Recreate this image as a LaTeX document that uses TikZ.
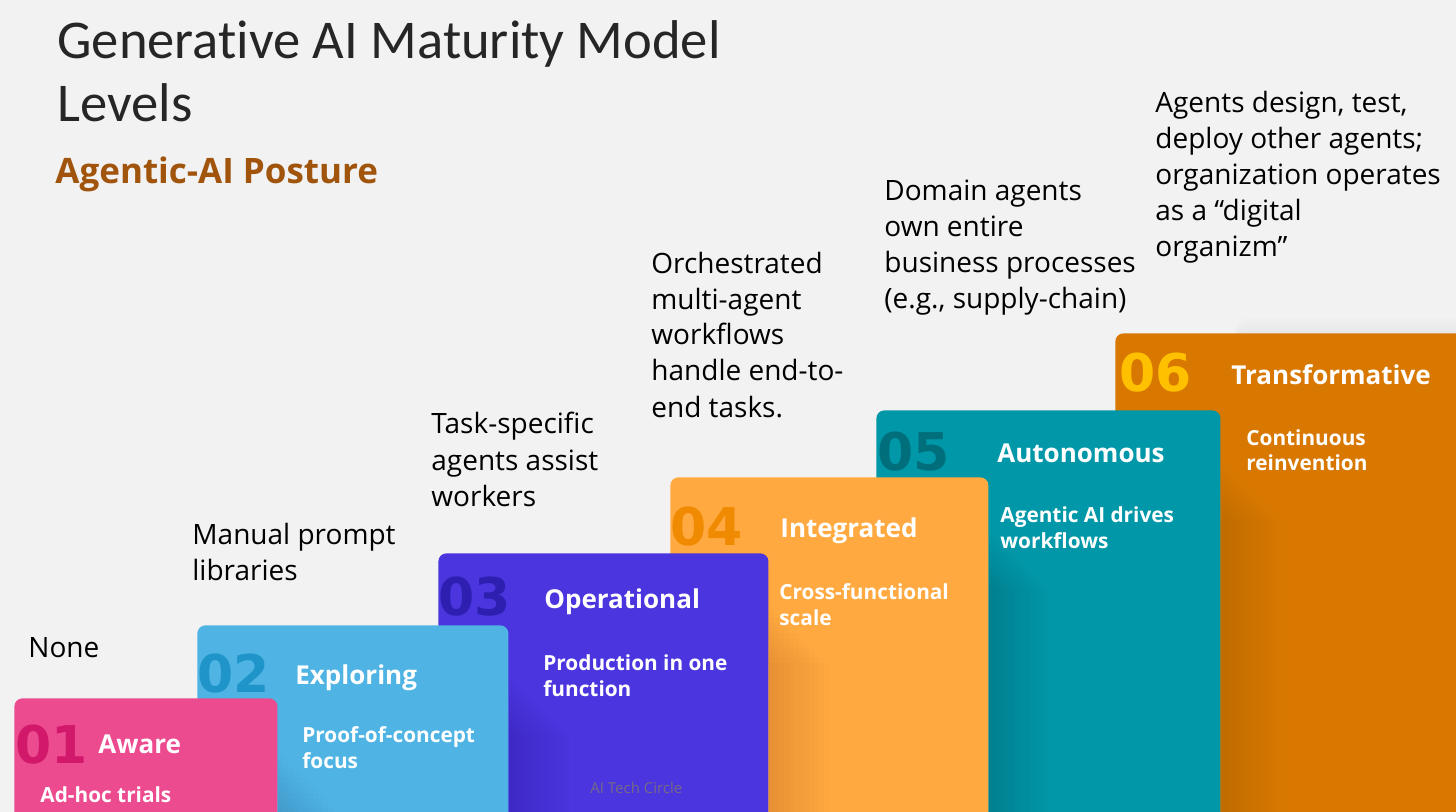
\documentclass[tikz,border=0pt]{standalone}
\usepackage{fontspec}
\setmainfont{Open Sans}
\newfontfamily\titlefont[Ligatures=NoCommon]{Carlito}
\newfontfamily\numfont{DejaVu Sans}
\usepackage{xcolor}
\definecolor{lvlbg}{HTML}{F2F2F2}
\definecolor{lvlpink}{HTML}{EC4B8F}
\definecolor{lvlpinknum}{HTML}{D2186A}
\definecolor{lvlsky}{HTML}{4FB4E4}
\definecolor{lvlskynum}{HTML}{1E94C8}
\definecolor{lvlviolet}{HTML}{4A35DE}
\definecolor{lvlvioletnum}{HTML}{2D20B0}
\definecolor{lvlamber}{HTML}{FFA940}
\definecolor{lvlambernum}{HTML}{F08A00}
\definecolor{lvlteal}{HTML}{0098A8}
\definecolor{lvltealnum}{HTML}{006E7B}
\definecolor{lvlochre}{HTML}{D87800}
\definecolor{lvlochrenum}{HTML}{FFC000}
\definecolor{lvlbrown}{HTML}{A0540C}
\definecolor{lvlcredit}{HTML}{766A84}
\usetikzlibrary{positioning,calc}
\tikzset{
  lvlbox/.style={rounded corners=4pt,inner sep=0pt,anchor=north west},
  lvlnum/.style={anchor=base west,inner sep=0pt,font=\numfont\bfseries\fontsize{26}{26}\selectfont},
  lvlname/.style={anchor=base west,inner sep=0pt,text=white,font=\bfseries\fontsize{13}{16}\selectfont},
  lvldesc/.style={anchor=base west,inner sep=0pt,text=white,align=left,font=\bfseries\fontsize{10.4}{13}\selectfont},
  stepnote/.style={anchor=base west,inner sep=0pt,align=left,text=black,font=\fontsize{14}{18}\selectfont},
  lvlshade/.style={black,opacity=0.009},
}
% soft shadow cast to the right of a box
\newcommand{\lvlshadow}[1]{%
  \foreach \w in {5,10,...,60}
    \fill[lvlshade] ([shift={(0,50+\w)}]#1.north east) rectangle ([shift={(\w,0)}]#1.south east);%
}

\begin{document}
\begin{tikzpicture}[x=0.5pt,y=-0.5pt]
  \fill[lvlbg] (0,0) rectangle (1456,812);
  \clip (0,0) rectangle (1456,812);
  \useasboundingbox (0,0) rectangle (1456,812);

  % headings
  \node[anchor=base west,inner sep=0pt,align=left,text=black!85,font=\titlefont\fontsize{27.3}{31.5}\selectfont] (title) at (57,122) {Generative AI Maturity Model\\Levels};
  \node[anchor=base west,inner sep=0pt,text=lvlbrown,font=\bfseries\fontsize{17.5}{20}\selectfont] (posture) at (55,184) {Agentic-AI Posture};

  % level boxes, back to front
  \foreach \d in {3,6,...,15}
    \fill[lvlshade,rounded corners=6pt] (1235,333-\d) rectangle (1480,380);
  \node[lvlbox,fill=lvlochre,minimum width=182.5pt,minimum height=248.5pt] (b6) at (1115,333) {};
  \node[lvlbox,fill=lvlteal,minimum width=172pt,minimum height=210pt] (b5) at (876,410) {};
  \lvlshadow{b5}
  \node[lvlbox,fill=lvlamber,minimum width=159pt,minimum height=176.5pt] (b4) at (670,477) {};
  \lvlshadow{b4}
  \node[lvlbox,fill=lvlviolet,minimum width=165pt,minimum height=138.5pt] (b3) at (438,553) {};
  \lvlshadow{b3}
  \node[lvlbox,fill=lvlsky,minimum width=155.5pt,minimum height=102.5pt] (b2) at (197,625) {};
  \lvlshadow{b2}
  \node[lvlbox,fill=lvlpink,minimum width=131.5pt,minimum height=66pt] (b1) at (14,698) {};
  \lvlshadow{b1}

  % numbers, names and descriptions
  \node[lvlnum,text=lvlpinknum] (n1) at (15,763) {01};
  \node[lvlname] (t1) at (98,753) {Aware};
  \node[lvldesc] (d1) at (40,802) {Ad-hoc trials};

  \node[lvlnum,text=lvlskynum] (n2) at (197,692) {02};
  \node[lvlname] (t2) at (295,684) {Exploring};
  \node[lvldesc] (d2) at (302,768) {Proof-of-concept\\focus};

  \node[lvlnum,text=lvlvioletnum] (n3) at (438,615) {03};
  \node[lvlname] (t3) at (544,608) {Operational};
  \node[lvldesc] (d3) at (543,696) {Production in one\\function};

  \node[lvlnum,text=lvlambernum] (n4) at (670,545) {04};
  \node[lvlname] (t4) at (780,537) {Integrated};
  \node[lvldesc] (d4) at (779,625) {Cross-functional\\scale};

  \node[lvlnum,text=lvltealnum] (n5) at (877,470) {05};
  \node[lvlname] (t5) at (997,463) {Autonomous};
  \node[lvldesc] (d5) at (1000,548) {Agentic AI drives\\workflows};

  \node[lvlnum,text=lvlochrenum] (n6) at (1119,392) {06};
  \node[lvlname] (t6) at (1231,385) {Transformative};
  \node[lvldesc] (d6) at (1246,471) {Continuous\\reinvention};

  \node[anchor=base west,inner sep=0pt,text=lvlcredit,font=\fontsize{7.5}{9}\selectfont] (credit) at (590,793) {AI Tech Circle};

  % agentic posture per level
  \node[stepnote] (s1) at (28,657) {None};
  \node[stepnote] (s2) at (192,580) {Manual prompt\\libraries};
  \node[stepnote] (s3) at (431,506) {Task-specific\\agents assist\\workers};
  \node[stepnote] (s4) at (651,417) {Orchestrated\\multi-agent\\workflows\\handle end-to-\\end tasks.};
  \node[stepnote] (s5) at (884,309) {Domain agents\\own entire\\business processes\\(e.g., supply-chain)};
  \node[stepnote] (s6) at (1155,257) {Agents design, test,\\deploy other agents;\\organization operates\\as a “digital\\organizm”};
\end{tikzpicture}
\end{document}
